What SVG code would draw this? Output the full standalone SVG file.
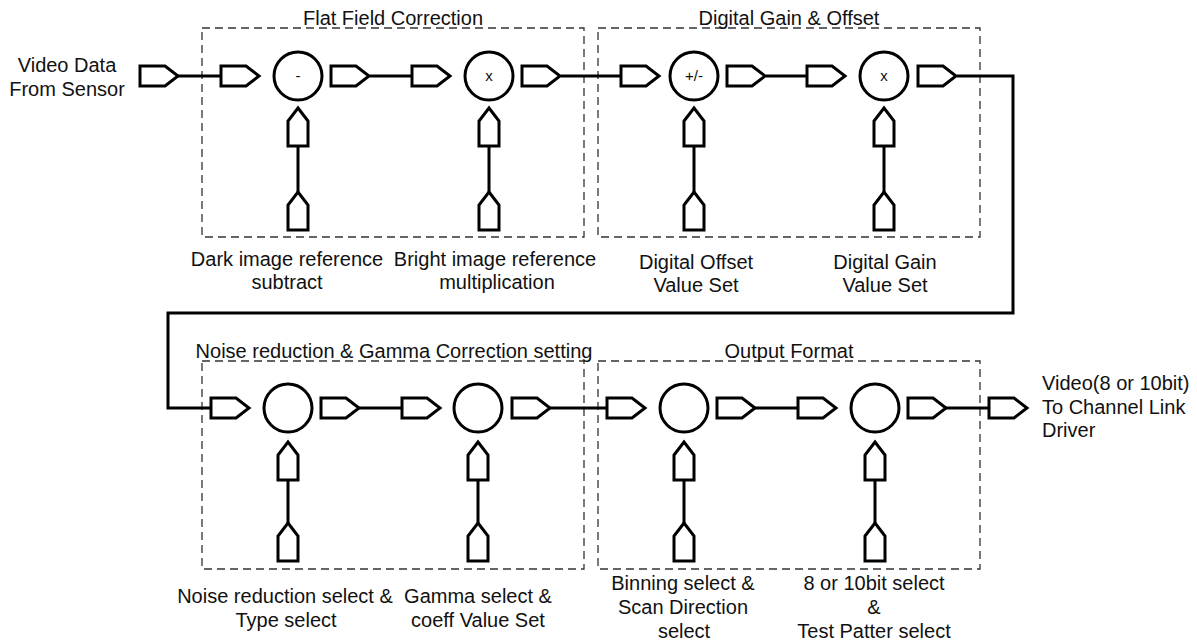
<svg xmlns="http://www.w3.org/2000/svg" width="1197" height="642" viewBox="0 0 1197 642">
<defs>
<style>
.t{font-family:"Liberation Sans",Arial,sans-serif;font-size:20px;fill:#111;}
.m{text-anchor:middle;}
.s{font-family:"Liberation Sans",Arial,sans-serif;font-size:15px;fill:#111;text-anchor:middle;}
.box{fill:none;stroke:#333;stroke-width:1.3;stroke-dasharray:8 5;}
.sh{fill:#fff;stroke:#000;stroke-width:3;stroke-linejoin:miter;}
.ln{fill:none;stroke:#000;stroke-width:3;}
</style>
<path id="ph" d="M0,-10 h25 l13,10 l-13,10 h-25 z"/>
<path id="pv" d="M0,0 l10,13 v25 h-20 v-25 z"/>
</defs>
<rect width="1197" height="642" fill="#fff"/>

<g id="groups">
<rect class="box" x="202" y="28" width="382" height="209"/>
<rect class="box" x="598" y="28" width="382" height="209"/>
<rect class="box" x="202" y="361" width="382" height="208"/>
<rect class="box" x="598" y="361" width="382" height="208"/>
<text class="t m" x="393" y="25">Flat Field Correction</text>
<text class="t m" x="789" y="25">Digital Gain &amp; Offset</text>
<text class="t m" x="394" y="358">Noise reduction &amp; Gamma Correction setting</text>
<text class="t m" x="789" y="358">Output Format</text>
</g>

<g id="connectors">
<path class="ln" d="M178,76 H221"/>
<path class="ln" d="M370,76 H412"/>
<path class="ln" d="M561,76 H621"/>
<path class="ln" d="M766,76 H807"/>
<path class="ln" d="M957,76 H1013 V313 H168 V408 H211"/>
<path class="ln" d="M359,408 H402"/>
<path class="ln" d="M550,408 H607"/>
<path class="ln" d="M755,408 H798"/>
<path class="ln" d="M946,408 H988"/>
<path class="ln" d="M298,146 V192 M489,146 V192 M694,146 V192 M884,146 V192"/>
<path class="ln" d="M288,480 V523 M478,480 V523 M684,480 V523 M875,480 V523"/>
</g>

<g id="input">
<use href="#ph" class="sh" x="140" y="76"/>
<text class="t m" x="67" y="72">Video Data</text>
<text class="t m" x="67" y="96">From Sensor</text>
</g>

<g id="node-subtract">
<use href="#ph" class="sh" x="221" y="76"/>
<circle class="sh" cx="298" cy="76" r="24"/>
<text class="s" x="298" y="81">-</text>
<use href="#ph" class="sh" x="331" y="76"/>
<use href="#pv" class="sh" x="298" y="108"/>
<use href="#pv" class="sh" x="298" y="192"/>
<text class="t m" x="287" y="266">Dark image reference</text>
<text class="t m" x="287" y="289">subtract</text>
</g>

<g id="node-multiply">
<use href="#ph" class="sh" x="412" y="76"/>
<circle class="sh" cx="489" cy="76" r="24"/>
<text class="s" x="489" y="81">x</text>
<use href="#ph" class="sh" x="522" y="76"/>
<use href="#pv" class="sh" x="489" y="108"/>
<use href="#pv" class="sh" x="489" y="192"/>
<text class="t m" x="495" y="266">Bright image reference</text>
<text class="t m" x="497" y="289">multiplication</text>
</g>

<g id="node-offset">
<use href="#ph" class="sh" x="621" y="76"/>
<circle class="sh" cx="694" cy="76" r="24"/>
<text class="s" x="694" y="81">+/-</text>
<use href="#ph" class="sh" x="727" y="76"/>
<use href="#pv" class="sh" x="694" y="108"/>
<use href="#pv" class="sh" x="694" y="192"/>
<text class="t m" x="696" y="269">Digital Offset</text>
<text class="t m" x="696" y="292">Value Set</text>
</g>

<g id="node-gain">
<use href="#ph" class="sh" x="807" y="76"/>
<circle class="sh" cx="884" cy="76" r="24"/>
<text class="s" x="884" y="81">x</text>
<use href="#ph" class="sh" x="918" y="76"/>
<use href="#pv" class="sh" x="884" y="108"/>
<use href="#pv" class="sh" x="884" y="192"/>
<text class="t m" x="885" y="269">Digital Gain</text>
<text class="t m" x="885" y="292">Value Set</text>
</g>

<g id="node-noise">
<use href="#ph" class="sh" x="211" y="408"/>
<circle class="sh" cx="288" cy="408" r="24"/>
<use href="#ph" class="sh" x="321" y="408"/>
<use href="#pv" class="sh" x="288" y="442"/>
<use href="#pv" class="sh" x="288" y="523"/>
<text class="t m" x="285" y="603">Noise reduction select &amp;</text>
<text class="t m" x="286" y="627">Type select</text>
</g>

<g id="node-gamma">
<use href="#ph" class="sh" x="402" y="408"/>
<circle class="sh" cx="478" cy="408" r="24"/>
<use href="#ph" class="sh" x="512" y="408"/>
<use href="#pv" class="sh" x="478" y="442"/>
<use href="#pv" class="sh" x="478" y="523"/>
<text class="t m" x="478" y="603">Gamma select &amp;</text>
<text class="t m" x="478" y="627">coeff Value Set</text>
</g>

<g id="node-binning">
<use href="#ph" class="sh" x="607" y="408"/>
<circle class="sh" cx="684" cy="408" r="24"/>
<use href="#ph" class="sh" x="717" y="408"/>
<use href="#pv" class="sh" x="684" y="442"/>
<use href="#pv" class="sh" x="684" y="523"/>
<text class="t m" x="683" y="590">Binning select &amp;</text>
<text class="t m" x="683" y="614">Scan Direction</text>
<text class="t m" x="684" y="638">select</text>
</g>

<g id="node-bitsel">
<use href="#ph" class="sh" x="798" y="408"/>
<circle class="sh" cx="875" cy="408" r="24"/>
<use href="#ph" class="sh" x="908" y="408"/>
<use href="#pv" class="sh" x="875" y="442"/>
<use href="#pv" class="sh" x="875" y="523"/>
<text class="t m" x="874" y="590">8 or 10bit select</text>
<text class="t m" x="874" y="614">&amp;</text>
<text class="t m" x="874" y="638">Test Patter select</text>
</g>

<g id="output">
<use href="#ph" class="sh" x="989" y="408"/>
<text class="t" x="1042" y="390">Video(8 or 10bit)</text>
<text class="t" x="1042" y="414">To Channel Link</text>
<text class="t" x="1042" y="437">Driver</text>
</g>
</svg>
